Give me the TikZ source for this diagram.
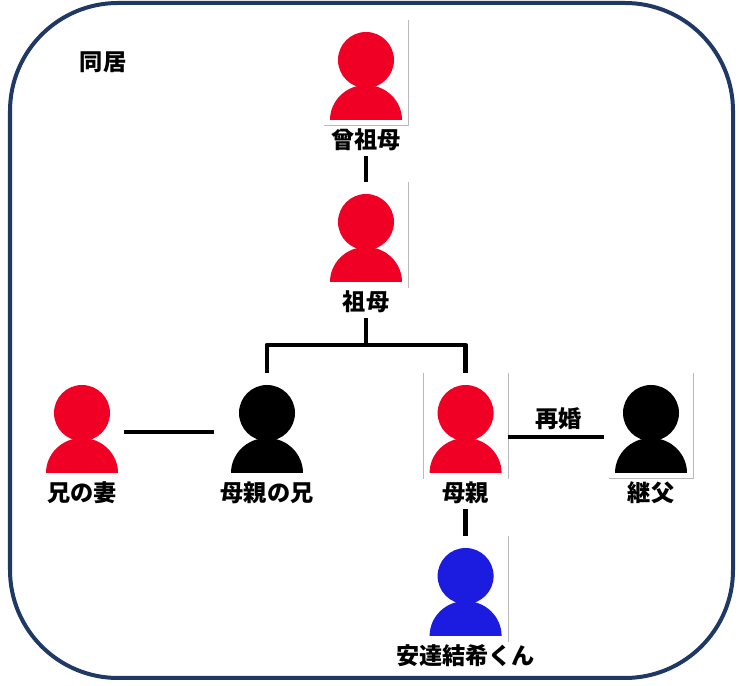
\documentclass[tikz,border=0pt]{standalone}
\usepackage{fontspec}
\newfontfamily\cjk{Noto Sans CJK JP Black}
\usetikzlibrary{positioning}
\definecolor{pred}{RGB}{240,0,36}
\definecolor{pblue}{RGB}{28,28,225}
\definecolor{navy}{RGB}{31,56,100}
\begin{document}
\begin{tikzpicture}[font=\cjk\fontsize{16.5}{19}\selectfont,line join=round,
    link/.style={line width=3.5pt},
    imgbox/.style={minimum width=2.1cm,minimum height=2.625cm,inner sep=0pt},
    imgedge/.style={gray!55,line width=0.5pt}]
    \useasboundingbox (0,0) rectangle (18.475,17.15);
    \draw[navy,line width=0.1cm,rounded corners=2.7cm] (0.25,0.2) rectangle (18.325,17.075);
    \def\person#1#2#3#4{%
      \node[imgbox] (#1) at (#2) {};
      \coordinate (#1-h) at ([yshift=0.325cm]#1.center);
      \fill[#3] (#1-h) circle (0.7);
      \fill[#3] ([shift={(-0.9,-1.5)}]#1-h) arc[start angle=180,end angle=0,x radius=0.9,y radius=0.875] -- cycle;
      \node (#1-name) at ([yshift=-2cm]#1-h) {#4};}
    \node (home) at (2.575,15.6) {同居};
    \person{ggm}{9.15,15.325}{pred}{曾祖母}
    \person{gm}{9.15,11.275}{pred}{祖母}
    \person{wife}{2.05,6.5}{pred}{兄の妻}
    \person{uncle}{6.675,6.5}{black}{母親の兄}
    \person{mom}{11.64,6.5}{pred}{母親}
    \person{step}{16.275,6.5}{black}{継父}
    \person{yuki}{11.64,2.425}{pblue}{安達結希くん}
    % edges of the photos
    \draw[imgedge] (ggm.north east) -- (ggm.south east) -- (ggm.south west);
    \draw[imgedge] (gm.north east) -- (gm.south east);
    \draw[imgedge] (mom.north west) -- (mom.south west) (mom.north east) -- (mom.south east);
    \draw[imgedge] (step.north east) -- (step.south east) -- (step.south west);
    \draw[imgedge] (yuki.north east) -- (yuki.south east);
    \coordinate (fork) at (9.15,8.525);
    \draw[link] (ggm-name.south) -- (gm.north);
    \draw[link] (gm-name.south) -- (fork);
    \draw[link] (uncle.north) |- (fork) -| (mom.north);
    \draw[link,shorten >=0.275cm] ([yshift=-0.15cm]wife.east) -- ([yshift=-0.15cm]uncle.west);
    \draw[link,shorten >=0.125cm] ([yshift=-0.275cm]mom.east) -- ([yshift=-0.275cm]step.west)
      node[midway,above=0pt] (remarry) {再婚};
    \draw[link] (mom-name.south) -- (yuki.north);
\end{tikzpicture}
\end{document}
